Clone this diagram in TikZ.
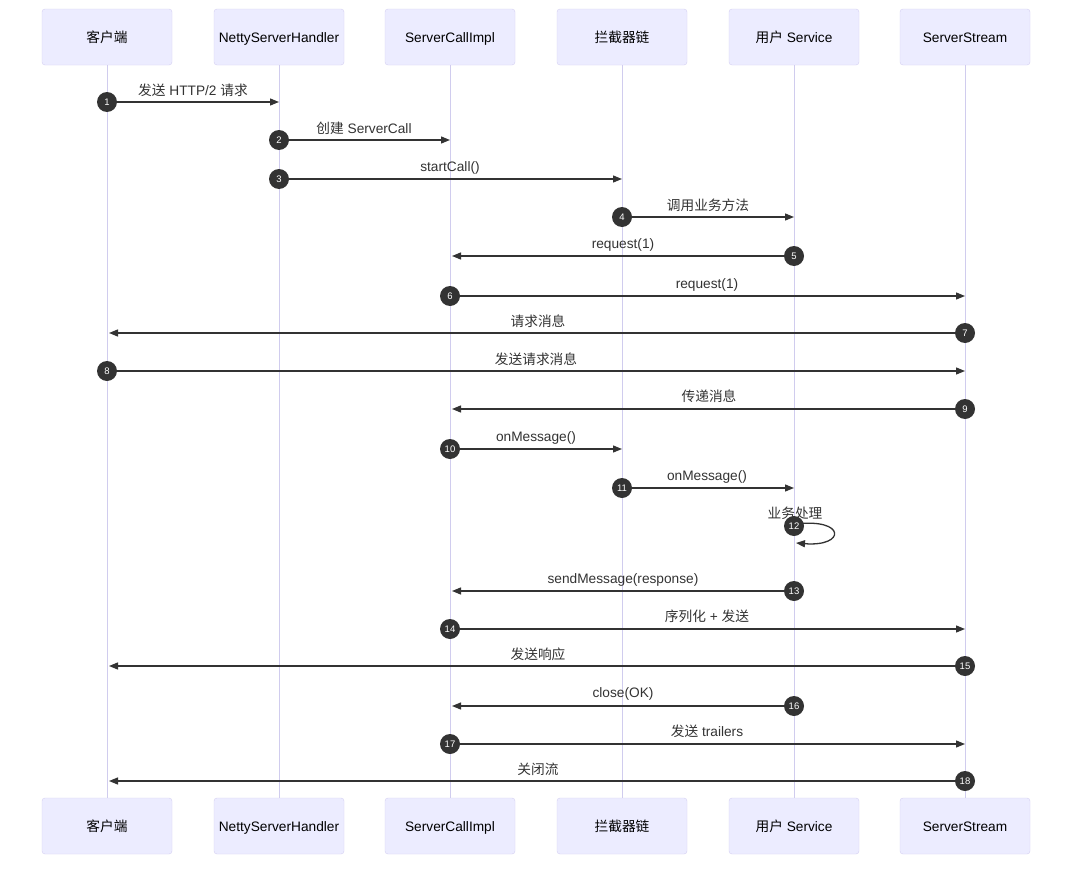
\documentclass[tikz,border=0pt]{standalone}
\usepackage{fontspec}
\setmainfont{Liberation Sans}
\newfontfamily\cjk{Noto Sans CJK SC}
\usetikzlibrary{arrows.meta}
\definecolor{boxfill}{HTML}{ECECFF}
\definecolor{boxline}{HTML}{D6D0F2}
\definecolor{lifeclr}{HTML}{D0CCEE}
\definecolor{ink}{HTML}{333333}
\begin{document}
\begin{tikzpicture}[x=1pt,y=-1pt,
 actor/.style={draw=boxline, fill=boxfill, rounded corners=3pt, minimum width=130pt, minimum height=56pt, inner sep=0pt, text height=12pt, text depth=1pt, font=\fontsize{13.7}{16}\selectfont, text=black},
 life/.style={draw=lifeclr, line width=1pt},
 msg/.style={draw=ink, line width=1.3pt, -{Triangle[length=9pt,width=7pt]}},
 num/.style={circle, fill=ink, minimum size=20pt, inner sep=0pt, text=white, font=\fontsize{9.5}{10}\selectfont},
 lbl/.style={font=\fontsize{13.7}{16}\selectfont, text=ink, inner sep=0pt, text height=12pt, text depth=1pt}]
\useasboundingbox (0,0) rectangle (1080,870);
\fill[white] (0,0) rectangle (1080,870);
% participants
\node[actor] (t1) at (107,37) {{\cjk 客户端}};
\node[actor] (t2) at (279,37) {NettyServerHandler};
\node[actor] (t3) at (450,37) {ServerCallImpl};
\node[actor] (t4) at (622,37) {{\cjk 拦截器链}};
\node[actor] (t5) at (794,37) {{\cjk 用户} Service};
\node[actor] (t6) at (965,37) {ServerStream};
\node[actor] (b1) at (107,826) {{\cjk 客户端}};
\node[actor] (b2) at (279,826) {NettyServerHandler};
\node[actor] (b3) at (450,826) {ServerCallImpl};
\node[actor] (b4) at (622,826) {{\cjk 拦截器链}};
\node[actor] (b5) at (794,826) {{\cjk 用户} Service};
\node[actor] (b6) at (965,826) {ServerStream};
\foreach \i in {1,...,6} { \draw[life] (t\i.south) -- (b\i.north); }
% labels
\node[lbl] (l1) at (193,90) {{\cjk 发送} HTTP/2 {\cjk 请求}};
\node[lbl] (l2) at (364,128) {{\cjk 创建} ServerCall};
\node[lbl] (l3) at (450,166) {startCall()};
\node[lbl] (l4) at (708,205) {{\cjk 调用业务方法}};
\node[lbl] (l5) at (623,243) {request(1)};
\node[lbl] (l6) at (707,283) {request(1)};
\node[lbl] (l7) at (538,321) {{\cjk 请求消息}};
\node[lbl] (l8) at (536,359) {{\cjk 发送请求消息}};
\node[lbl] (l9) at (709,396) {{\cjk 传递消息}};
\node[lbl] (l10) at (536,436) {onMessage()};
\node[lbl] (l11) at (707,475) {onMessage()};
\node[lbl] (l12) at (795,513) {{\cjk 业务处理}};
\node[lbl] (l13) at (623,578) {sendMessage(response)};
\node[lbl] (l14) at (707,616) {{\cjk 序列化} + {\cjk 发送}};
\node[lbl] (l15) at (538,654) {{\cjk 发送响应}};
\node[lbl] (l16) at (623,692) {close(OK)};
\node[lbl] (l17) at (707,731) {{\cjk 发送} trailers};
\node[lbl] (l18) at (538,769) {{\cjk 关闭流}};
% end points
\coordinate (e1) at (279,102);
\coordinate (e2) at (450,140);
\coordinate (e3) at (622,179);
\coordinate (e4) at (794,217);
\coordinate (e5) at (452,256);
\coordinate (e6) at (965,296);
\coordinate (e7) at (109,333);
\coordinate (e8) at (965,371);
\coordinate (e9) at (452,409);
\coordinate (e10) at (622,449);
\coordinate (e11) at (794,488);
\coordinate (e13) at (452,591);
\coordinate (e14) at (965,629);
\coordinate (e15) at (109,666);
\coordinate (e16) at (452,706);
\coordinate (e17) at (965,744);
\coordinate (e18) at (109,781);
\coordinate (s12a) at (796,524);
\coordinate (s12b) at (796,543);
% circles
\node[num] (c1) at (107,102) {1};
\node[num] (c2) at (279,140) {2};
\node[num] (c3) at (279,179) {3};
\node[num] (c4) at (622,217) {4};
\node[num] (c5) at (794,256) {5};
\node[num] (c6) at (450,296) {6};
\node[num] (c7) at (965,333) {7};
\node[num] (c8) at (107,371) {8};
\node[num] (c9) at (965,409) {9};
\node[num] (c10) at (450,449) {10};
\node[num] (c11) at (622,488) {11};
\node[num] (c13) at (794,591) {13};
\node[num] (c14) at (450,629) {14};
\node[num] (c15) at (965,666) {15};
\node[num] (c16) at (794,706) {16};
\node[num] (c17) at (450,744) {17};
\node[num] (c18) at (965,781) {18};
% messages
\foreach \i in {1,2,3,4,5,6,7,8,9,10,11,13,14,15,16,17,18} { \draw[msg] (c\i) -- (e\i); }
\draw[msg] (s12a) .. controls (846,518) and (846,547) .. (s12b);
\node[num] (c12) at (794,526) {12};
\end{tikzpicture}
\end{document}
